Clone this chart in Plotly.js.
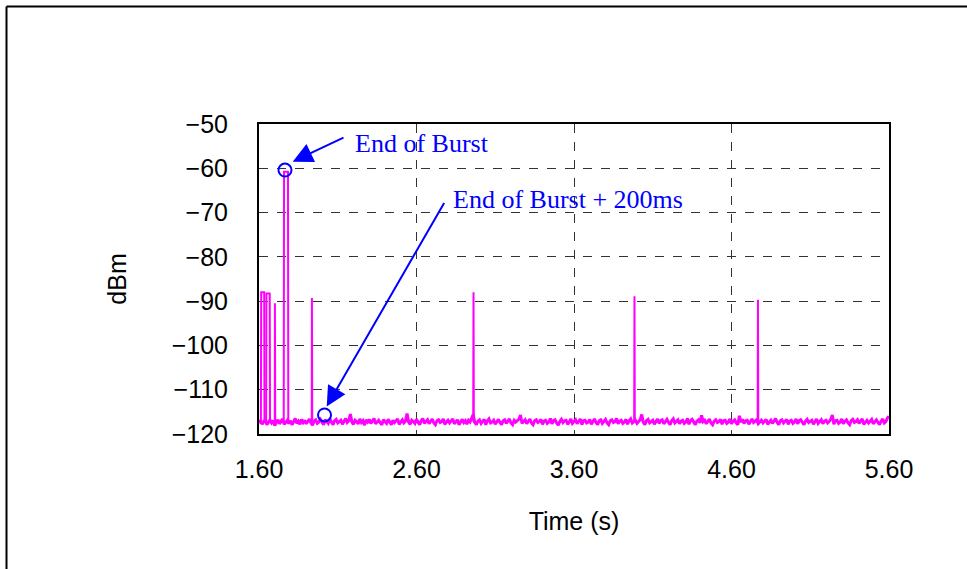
<!DOCTYPE html>
<html>
<head>
<meta charset="utf-8">
<script src="https://cdn.plot.ly/plotly-3.0.1.min.js"></script>
<style>
html,body{margin:0;padding:0;background:#fff;}
#chart{width:967px;height:569px;}
</style>
</head>
<body>
<div id="chart"></div>
<script>
// ---- data ----
// noise floor, sampled every 0.01 s from 1.60 s to 5.60 s (dBm)
const noiseStart = 1.6;
const noiseStep = 0.01;
const noiseDbm = [
 -117.6,-116.9,-117.8,-117.3,-116.7,-117.9,-117.2,-116.8,-117.5,-117.0,-118.1,-117.3,-116.8,-117.7,-117.2,-116.6,-117.8,-117.4,-116.9,-117.6,
 -117.0,-117.9,-117.3,-116.5,-117.6,-117.1,-117.8,-116.7,-117.4,-116.9,-117.7,-117.2,-116.6,-117.5,-118.0,-117.1,-116.8,-117.6,-117.3,-116.7,
 -117.4,-117.9,-116.8,-117.2,-117.6,-116.6,-117.3,-117.9,-117.0,-116.7,-117.5,-117.2,-116.9,-117.8,-117.1,-116.5,-117.4,-117.0,-115.5,-117.3,
 -117.8,-116.9,-117.2,-117.7,-116.6,-117.4,-117.0,-118.0,-116.8,-117.3,-116.7,-117.6,-117.1,-116.5,-117.7,-117.2,-116.9,-117.5,-117.9,-116.8,
 -117.2,-117.6,-116.7,-117.3,-117.9,-116.9,-117.4,-117.0,-116.6,-117.8,-117.2,-116.8,-117.5,-117.1,-115.4,-117.3,-117.8,-116.9,-117.2,-117.6,
 -116.7,-117.4,-117.9,-117.0,-116.5,-117.6,-117.2,-116.8,-117.7,-117.1,-116.6,-117.5,-117.9,-117.0,-116.8,-117.4,-117.2,-116.6,-117.8,-117.3,
 -116.9,-117.5,-117.1,-116.6,-117.7,-117.3,-116.8,-117.9,-117.2,-116.7,-117.4,-117.0,-117.8,-116.9,-117.3,-116.5,-115.6,-117.4,-117.9,-117.1,
 -116.8,-117.6,-117.2,-116.7,-117.9,-117.0,-116.6,-117.5,-117.3,-116.9,-117.8,-117.1,-116.7,-117.4,-117.9,-117.0,-116.8,-117.6,-117.2,-116.6,
 -117.5,-117.9,-116.9,-117.3,-117.0,-116.7,-115.7,-117.6,-117.2,-116.8,-117.7,-117.1,-116.6,-117.5,-117.9,-117.0,-116.8,-117.4,-117.2,-116.7,
 -117.8,-117.1,-116.9,-117.6,-117.3,-116.5,-117.7,-117.0,-116.8,-117.5,-118.0,-117.2,-116.7,-117.4,-117.0,-116.9,-117.8,-117.3,-116.6,-117.6,
 -117.1,-116.8,-117.7,-117.2,-116.6,-117.9,-117.0,-116.9,-117.5,-117.3,-116.7,-117.8,-117.1,-116.6,-117.4,-117.9,-117.0,-116.8,-117.6,-117.2,
 -116.7,-117.5,-117.9,-117.0,-116.8,-117.4,-117.2,-116.5,-117.7,-117.1,-116.9,-117.6,-117.3,-116.7,-117.8,-117.0,-116.6,-117.5,-117.2,-116.9,
 -117.6,-117.1,-116.8,-115.6,-117.4,-117.9,-117.0,-116.7,-117.5,-117.2,-116.9,-117.8,-117.3,-116.6,-117.6,-117.0,-116.8,-117.7,-117.2,-116.7,
 -117.4,-117.9,-117.0,-116.6,-117.5,-117.2,-116.8,-117.7,-117.1,-116.9,-117.6,-117.3,-116.5,-117.8,-117.0,-116.7,-117.4,-117.9,-117.1,-116.8,
 -117.5,-115.8,-117.2,-116.9,-117.7,-117.0,-116.6,-117.5,-117.9,-117.1,-116.8,-117.4,-117.2,-116.7,-117.8,-117.0,-116.9,-117.6,-117.3,-116.6,
 -117.7,-117.1,-116.8,-117.5,-117.9,-115.9,-117.3,-116.7,-117.6,-117.0,-116.9,-117.8,-117.2,-116.6,-117.4,-117.1,-116.8,-117.7,-117.3,-116.9,
 -117.5,-117.0,-116.7,-117.8,-117.2,-116.9,-117.6,-117.1,-116.5,-117.4,-117.9,-117.0,-116.8,-117.5,-117.2,-116.7,-117.8,-117.1,-116.9,-117.6,
 -117.3,-116.6,-117.7,-117.0,-116.8,-117.5,-117.9,-117.1,-116.7,-117.4,-117.2,-116.9,-117.8,-117.0,-116.6,-117.6,-117.3,-116.8,-117.7,-117.1,
 -116.9,-117.5,-117.2,-116.7,-115.7,-117.8,-117.0,-116.9,-117.6,-117.3,-116.6,-117.7,-117.1,-116.8,-117.5,-117.9,-117.0,-116.7,-117.4,-117.2,
 -116.8,-117.6,-117.1,-116.6,-117.8,-117.3,-116.9,-117.5,-117.0,-116.7,-117.7,-117.2,-116.8,-117.4,-117.9,-117.1,-116.6,-117.5,-117.2,-116.4,
 -116.0
];

// burst / beacon spikes (time s, level dBm); null separates spikes
const spikeTime = [
 1.612,1.614,1.633,1.635,null,
 1.645,1.647,1.668,1.670,null,
 1.700,1.701,1.703,null,
 1.757,1.759,1.784,1.786,null,
 1.935,1.936,1.938,null,
 2.960,2.962,2.964,null,
 3.982,3.984,3.986,null,
 4.766,4.768,4.770
];
const spikeDbm = [
 -117.5,-88.0,-88.0,-117.3,null,
 -117.2,-88.3,-88.3,-117.6,null,
 -117.4,-90.5,-117.3,null,
 -117.5,-60.8,-60.8,-117.8,null,
 -117.3,-89.3,-117.2,null,
 -117.2,-88.0,-117.4,null,
 -117.3,-88.9,-117.1,null,
 -117.4,-89.7,-117.2
];

// marked points: end of burst and end of burst + 200 ms
const markTime = [1.765, 2.016];
const markDbm = [-60.4, -115.7];

// annotation labels
const labelText = ["End of Burst", "End of Burst + 200ms"];
const labelTime = [2.197, 2.818];
const labelDbm = [-54.3, -67.1];
// arrows: tail -> tip
const arrowTailTime = [2.146, 2.781];
const arrowTailDbm = [-52.9, -67.5];
const arrowTipTime = [1.814, 2.030];
const arrowTipDbm = [-58.5, -113.8];

const xTickVals = [1.6, 2.6, 3.6, 4.6, 5.6];
const xTickText = ["1.60", "2.60", "3.60", "4.60", "5.60"];
const yTickVals = [-50, -60, -70, -80, -90, -100, -110, -120];

// ---- chart ----
const magenta = '#FF00FF';
const blue = '#0000FF';
const sans = 'Arial, "Liberation Sans", sans-serif';
const serif = '"Times New Roman", "Liberation Serif", serif';

const traces = [
  {
    type: 'scatter', mode: 'lines',
    x0: noiseStart, dx: noiseStep, y: noiseDbm,
    line: {color: magenta, width: 3},
    hoverinfo: 'skip', showlegend: false
  },
  {
    type: 'scatter', mode: 'lines',
    x: spikeTime, y: spikeDbm,
    line: {color: magenta, width: 2},
    connectgaps: false,
    hoverinfo: 'skip', showlegend: false
  },
  {
    type: 'scatter', mode: 'markers',
    x: markTime, y: markDbm,
    marker: {symbol: 'circle-open', size: 13, color: blue, line: {color: blue, width: 2}},
    hoverinfo: 'skip', showlegend: false
  }
];

const annotations = [];
for (let i = 0; i < labelText.length; i++) {
  annotations.push({
    x: labelTime[i], y: labelDbm[i], xref: 'x', yref: 'y',
    text: labelText[i], showarrow: false,
    xanchor: 'left', yanchor: 'middle',
    font: {family: serif, size: 26, color: blue}
  });
  annotations.push({
    x: arrowTipTime[i], y: arrowTipDbm[i], xref: 'x', yref: 'y',
    ax: arrowTailTime[i], ay: arrowTailDbm[i], axref: 'x', ayref: 'y',
    text: '', showarrow: true,
    arrowhead: 2, arrowsize: 2, arrowwidth: 2, arrowcolor: blue,
    standoff: 0, startstandoff: 0
  });
}

// outer frame (top and left edges) in paper coordinates
const L = 259, T = 124, W = 630, H = 310;
const px = v => (v - L) / W;
const py = v => (T + H - v) / H;
const shapes = [
  {type: 'line', xref: 'paper', yref: 'paper', x0: px(6.5), x1: px(6.5), y0: py(575), y1: py(6.5), line: {color: '#000', width: 2}},
  {type: 'line', xref: 'paper', yref: 'paper', x0: px(6.5), x1: px(975), y0: py(6.5), y1: py(6.5), line: {color: '#000', width: 2}}
];

const layout = {
  width: 967, height: 569,
  margin: {l: L, r: 967 - L - W, t: T, b: 569 - T - H, pad: 0},
  paper_bgcolor: '#fff', plot_bgcolor: '#fff',
  showlegend: false,
  hovermode: false,
  font: {family: sans, size: 25, color: '#000'},
  xaxis: {
    range: [1.6, 5.6], autorange: false,
    tickvals: xTickVals, ticktext: xTickText,
    ticks: '', ticklabelstandoff: 12,
    showgrid: true, gridcolor: '#333', griddash: 'dash', gridwidth: 1,
    zeroline: false,
    showline: true, linecolor: '#000', linewidth: 2, mirror: true,
    tickfont: {family: sans, size: 25, color: '#000'},
    title: {text: 'Time (s)', font: {family: sans, size: 25, color: '#000'}, standoff: 30},
    automargin: false
  },
  yaxis: {
    range: [-120, -50], autorange: false,
    tickvals: yTickVals,
    ticks: '', ticklabelstandoff: 24,
    showgrid: true, gridcolor: '#333', griddash: 'dash', gridwidth: 1,
    zeroline: false,
    showline: true, linecolor: '#000', linewidth: 2, mirror: true,
    tickfont: {family: sans, size: 25, color: '#000'},
    title: {text: 'dBm', font: {family: sans, size: 25, color: '#000'}, standoff: 38},
    automargin: false
  },
  annotations: annotations,
  shapes: shapes
};

Plotly.newPlot('chart', traces, layout, {staticPlot: true, displayModeBar: false});
</script>
</body>
</html>
